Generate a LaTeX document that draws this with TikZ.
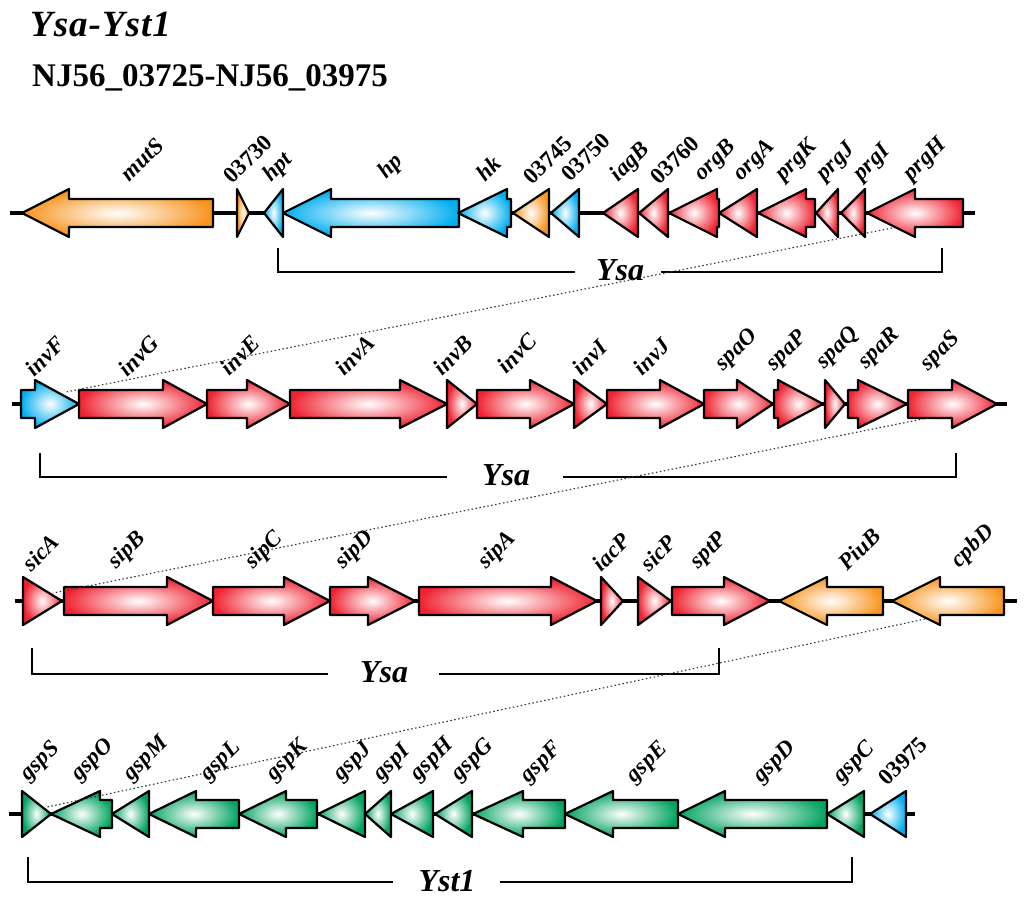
\documentclass[tikz,border=0pt]{standalone}
\usepackage{fontspec}
\setmainfont{Liberation Serif}
\usepackage{tikz}

\definecolor{genorange}{RGB}{247,148,29}
\definecolor{genblue}{RGB}{0,174,239}
\definecolor{genred}{RGB}{239,35,50}
\definecolor{gengreen}{RGB}{0,163,95}

\tikzset{
  gene/.style={draw=black, line width=2.2, line join=round, shading=radial, inner color=white, outer color=#1},
  glabel/.style={anchor=south west, rotate=45, inner sep=0pt, font=\fontsize{23}{23}\selectfont\bfseries\itshape},
  backbone/.style={line width=4},
  bracket/.style={line width=2},
  clustername/.style={inner sep=0pt, font=\fontsize{32}{32}\selectfont\bfseries\itshape},
  link/.style={line width=1.1, dash pattern=on 1.5pt off 2.5pt, black!80},
}

\begin{document}
\begin{tikzpicture}[x=1pt, y=-1pt]
        \useasboundingbox (0,0) rectangle (1024,901);

        % titles
        \node[anchor=base west, inner sep=0pt, font=\fontsize{37}{37}\selectfont\bfseries\itshape] (title) at (30,37) {Y\kern1pt s\kern1pt a\kern1pt -\kern1pt Y\kern1pt s\kern1pt t\kern1pt 1};
        \node[anchor=base west, inner sep=0pt, font=\fontsize{33}{33}\selectfont\bfseries] (locus) at (32,87) {NJ56\_03725-NJ56\_03975};

        % row 1
        \draw[backbone] (10,213) -- (975,213);
        \foreach \t/\h/\p/\c/\n/\lx/\ly [count=\i] in {
            213/69/22/genorange/mutS/130/183,
            237/237/249/genorange/{\upshape 03730}/233/185,
            283/283/264/genblue/hpt/275/186,
            459/331/283/genblue/hp/390/183,
            511/507/458/genblue/hk/485/183,
            549/549/513/genorange/{\upshape 03745}/533/186,
            579/579/551/genblue/{\upshape 03750}/571/183,
            638/638/603/genred/iagB/622/186,
            668/668/639/genred/{\upshape 03760}/660/186,
            719/717/669/genred/orgB/706/185,
            757/757/719/genred/orgA/745/185,
            815/806/758/genred/prgK/787/185,
            838/838/816/genred/prgJ/828/185,
            865/865/841/genred/prgI/865/185,
            963/915/867/genred/prgH/915/185}{
            \draw[gene=\c] (\t,199) -- (\h,199) -- (\h,189) -- (\p,213) -- (\h,237) -- (\h,227) -- (\t,227) -- cycle;
            \node[glabel] (ra\i) at (\lx,\ly) {\n};
        }
        \draw[bracket] (278,248) |- (575,272);
        \draw[bracket] (661,272) -| (942,248);
        \node[clustername] (ysa1) at (620,270) {Ysa};

        % row 2
        \draw[backbone] (12,404) -- (1007,404);
        \foreach \t/\h/\p/\c/\n/\lx/\ly [count=\i] in {
            21/35/79/genblue/invF/35/378,
            79/163/207/genred/invG/128/378,
            207/247/290/genred/invE/230/377,
            290/400/447/genred/invA/345/377,
            447/447/477/genred/invB/443/377,
            477/530/574/genred/invC/507/375,
            574/574/607/genred/invI/582/377,
            607/660/704/genred/invJ/643/377,
            704/737/773/genred/spaO/727/375,
            774/778/823/genred/spaP/778/375,
            825/825/845/genred/spaQ/828/373,
            848/858/907/genred/spaR/870/373,
            908/952/997/genred/spaS/932/375}{
            \draw[gene=\c] (\t,390) -- (\h,390) -- (\h,380) -- (\p,404) -- (\h,428) -- (\h,418) -- (\t,418) -- cycle;
            \node[glabel] (rb\i) at (\lx,\ly) {\n};
        }
        \draw[bracket] (40,453) |- (447,477);
        \draw[bracket] (563,477) -| (956,453);
        \node[clustername] (ysa2) at (506,475) {Ysa};

        % row 3
        \draw[backbone] (15,601) -- (1017,601);
        \foreach \t/\h/\p/\c/\n/\lx/\ly [count=\i] in {
            23/23/62/genred/sicA/32/573,
            64/167/213/genred/sipB/120/573,
            213/284/330/genred/sipC/257/573,
            330/368/415/genred/sipD/347/573,
            419/551/597/genred/sipA/490/573,
            601/601/623/genred/iacP/602/573,
            638/638/671/genred/sicP/650/573,
            672/724/770/genred/sptP/702/573,
            883/827/779/genorange/PiuB/848/572,
            1004/940/892/genorange/cpbD/963/572}{
            \draw[gene=\c] (\t,587) -- (\h,587) -- (\h,577) -- (\p,601) -- (\h,625) -- (\h,615) -- (\t,615) -- cycle;
            \node[glabel] (rc\i) at (\lx,\ly) {\n};
        }
        \draw[bracket] (32,648) |- (328,674);
        \draw[bracket] (439,674) -| (719,648);
        \node[clustername] (ysa3) at (384,672) {Ysa};

        % row 4
        \draw[backbone] (9,814) -- (915,814);
        \foreach \t/\h/\p/\c/\n/\lx/\ly [count=\i] in {
            22/22/51/gengreen/gspS/32/785,
            112/100/51/gengreen/gspO/83/785,
            149/149/112/gengreen/gspM/135/785,
            239/196/149/gengreen/gspL/212/785,
            317/286/239/gengreen/gspK/278/785,
            365/365/318/gengreen/gspJ/345/785,
            391/391/365/gengreen/gspI/385/785,
            433/433/391/gengreen/gspH/422/785,
            472/472/435/gengreen/gspG/463/785,
            565/523/473/gengreen/gspF/532/787,
            678/613/565/gengreen/gspE/638/787,
            827/725/678/gengreen/gspD/765/787,
            864/864/827/gengreen/gspC/845/787,
            906/906/870/genblue/{\upshape 03975}/888/787}{
            \draw[gene=\c] (\t,800) -- (\h,800) -- (\h,791) -- (\p,814) -- (\h,837) -- (\h,828) -- (\t,828) -- cycle;
            \node[glabel] (rd\i) at (\lx,\ly) {\n};
        }
        \draw[bracket] (28,857) |- (393,882);
        \draw[bracket] (500,882) -| (852,857);
        \node[clustername] (yst1) at (447,881) {Yst1};

        % dotted links between rows
        \coordinate (la) at (892,228);
        \coordinate (lb) at (66,392);
        \coordinate (lc) at (928,418);
        \coordinate (ld) at (53,593);
        \coordinate (le) at (925,619);
        \coordinate (lf) at (47,807);
        \draw[link] (la) -- (lb);
        \draw[link] (lc) -- (ld);
        \draw[link] (le) -- (lf);
    \end{tikzpicture}
\end{document}
